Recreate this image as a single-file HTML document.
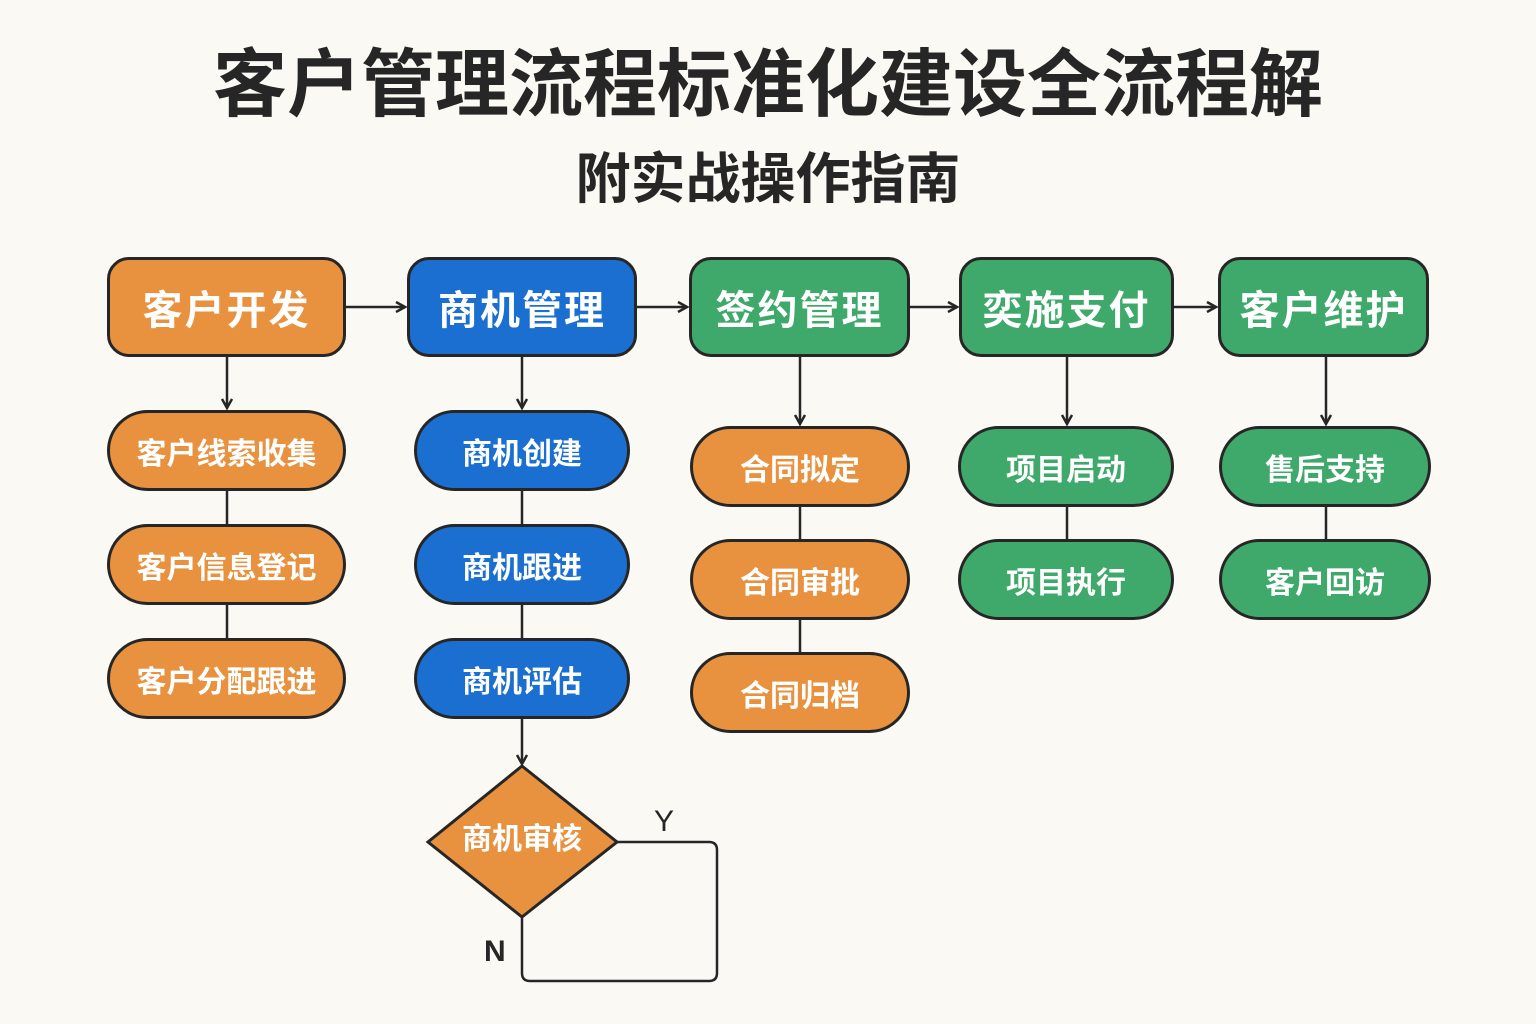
<!DOCTYPE html>
<html><head><meta charset="utf-8"><style>
html,body{margin:0;padding:0}
body{width:1536px;height:1024px;background:#FBF9F4;position:relative;overflow:hidden;font-family:"Liberation Sans","Noto Sans CJK SC",sans-serif}
.t{position:absolute;left:0;width:1536px;text-align:center;color:#262626;font-weight:bold}
.b{position:absolute;box-sizing:border-box;border:3px solid #262626;display:flex;align-items:center;justify-content:center;color:#fff;font-weight:bold}
.top{height:100px;border-radius:22px;font-size:40px;top:257px;letter-spacing:2px}
.p{height:81px;border-radius:41px;font-size:30px}
.o{background:#E8913F}.bl{background:#1B6FD0}.g{background:#3FA96B}
svg{position:absolute;left:0;top:0}
</style></head><body>
<div class="t" style="top:40px;font-size:74px;line-height:90px">客户管理流程标准化建设全流程解</div>
<div class="t" style="top:144px;font-size:55px;line-height:70px">附实战操作指南</div>
<svg width="1536" height="1024" fill="none" stroke="#262626" stroke-width="2.5">
<defs><marker id="a" markerWidth="12" markerHeight="12" refX="10" refY="6" orient="auto" markerUnits="userSpaceOnUse"><path d="M1,1 L10,6 L1,11" stroke="#262626" stroke-width="2.5" fill="none"/></marker></defs>
<line x1="346" y1="307" x2="405" y2="307" marker-end="url(#a)"/>
<line x1="637" y1="307" x2="687" y2="307" marker-end="url(#a)"/>
<line x1="910" y1="307" x2="957" y2="307" marker-end="url(#a)"/>
<line x1="1174" y1="307" x2="1216" y2="307" marker-end="url(#a)"/>
<line x1="227" y1="357" x2="227" y2="408" marker-end="url(#a)"/>
<line x1="522" y1="357" x2="522" y2="408" marker-end="url(#a)"/>
<line x1="800" y1="357" x2="800" y2="424" marker-end="url(#a)"/>
<line x1="1067" y1="357" x2="1067" y2="424" marker-end="url(#a)"/>
<line x1="1326" y1="357" x2="1326" y2="424" marker-end="url(#a)"/>
<line x1="227" y1="490" x2="227" y2="638"/>
<line x1="522" y1="490" x2="522" y2="638"/>
<line x1="800" y1="506" x2="800" y2="652"/>
<line x1="1067" y1="506" x2="1067" y2="539"/>
<line x1="1326" y1="506" x2="1326" y2="539"/>
<line x1="522" y1="718" x2="522" y2="764" marker-end="url(#a)"/>
<polygon points="522,766 617,842 522,917 428,842" fill="#E8913F" stroke-width="3"/>
<path d="M617,842 H709 Q717,842 717,850 V973 Q717,981 709,981 H530 Q522,981 522,973 V917"/>
</svg>
<div style="position:absolute;left:460px;top:820px;width:124px;text-align:center;color:#fff;font-weight:bold;font-size:30px;line-height:40px">商机审核</div>
<div style="position:absolute;left:654px;top:805px;font-size:30px;color:#262626">Y</div>
<div style="position:absolute;left:484px;top:935px;font-size:30px;font-weight:bold;color:#262626">N</div>

<div class="b top o" style="left:107px;width:239px">客户开发</div>
<div class="b top bl" style="left:407px;width:230px">商机管理</div>
<div class="b top g" style="left:689px;width:221px">签约管理</div>
<div class="b top g" style="left:959px;width:215px">奕施支付</div>
<div class="b top g" style="left:1218px;width:211px">客户维护</div>

<div class="b p o" style="left:107px;width:239px;top:410px">客户线索收集</div>
<div class="b p o" style="left:107px;width:239px;top:524px">客户信息登记</div>
<div class="b p o" style="left:107px;width:239px;top:638px">客户分配跟进</div>
<div class="b p bl" style="left:414px;width:216px;top:410px">商机创建</div>
<div class="b p bl" style="left:414px;width:216px;top:524px">商机跟进</div>
<div class="b p bl" style="left:414px;width:216px;top:638px">商机评估</div>
<div class="b p o" style="left:690px;width:220px;top:426px">合同拟定</div>
<div class="b p o" style="left:690px;width:220px;top:539px">合同审批</div>
<div class="b p o" style="left:690px;width:220px;top:652px">合同归档</div>
<div class="b p g" style="left:958px;width:216px;top:426px">项目启动</div>
<div class="b p g" style="left:958px;width:216px;top:539px">项目执行</div>
<div class="b p g" style="left:1219px;width:212px;top:426px">售后支持</div>
<div class="b p g" style="left:1219px;width:212px;top:539px">客户回访</div>
</body></html>
